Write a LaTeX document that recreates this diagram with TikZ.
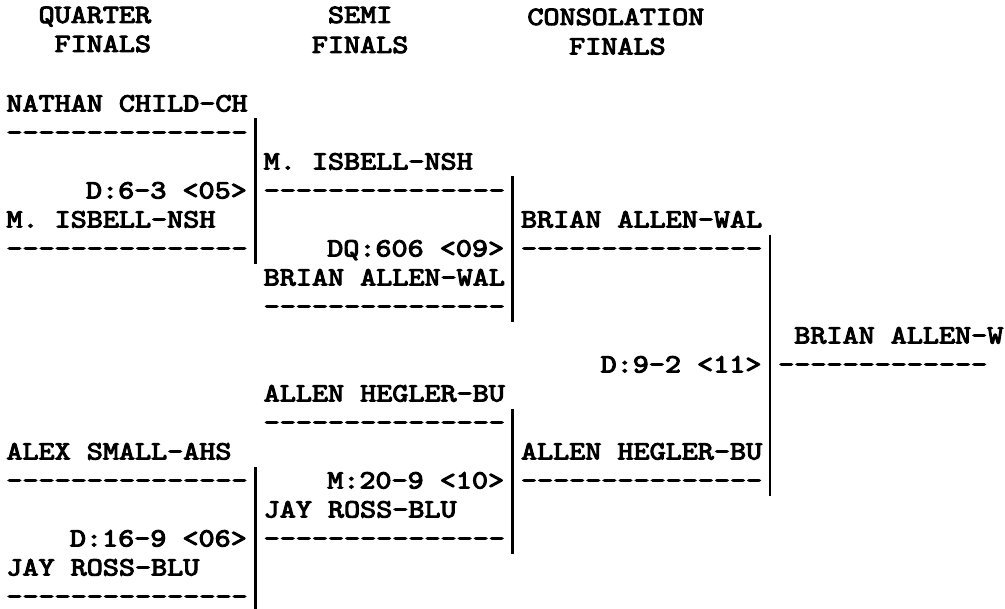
\documentclass[tikz,border=0pt]{standalone}
\usepackage{graphicx}
\usepackage{fontspec}
\newfontfamily\prtfont{lmmono10-regular.otf}[FakeBold=3.5]
\newcommand{\prt}[1]{\scalebox{1.16}[1]{#1}}
\newcommand{\dashes}[1]{\prt{\foreach \k in {1,...,#1}{-\kern0pt}}}

\begin{document}
\begin{tikzpicture}[x=0.5pt, y=-0.5pt,
    entry/.style={anchor=base west, inner sep=0pt, font=\fontsize{13.2}{15}\selectfont\prtfont},
    score/.style={entry, anchor=base east},
    bar/.style={line width=1.3pt}]
    \useasboundingbox (0,0) rectangle (1005,609);

    % Round headings
    \node[entry] (hq1) at (38.2,23) {\prt{QUARTER}};
    \node[entry] (hq2) at (54.2,52) {\prt{FINALS}};
    \node[entry] (hs1) at (327.6,23) {\prt{SEMI}};
    \node[entry] (hs2) at (311.5,53) {\prt{FINALS}};
    \node[entry] (hc1) at (527,25) {\prt{CONSOLATION}};
    \node[entry] (hc2) at (568.8,54.5) {\prt{FINALS}};

    % Quarter finals, top pair
    \node[entry] (qa) at (6,111.5) {\prt{NATHAN CHILD-CH}};
    \node[entry] (qau) at (6,140.5) {\dashes{15}};
    \node[score] (r05) at (247.2,198.5) {\prt{D:6-3 <05>}};
    \node[entry] (qb) at (6,227.5) {\prt{M. ISBELL-NSH}};
    \node[entry] (qbu) at (6,256.5) {\dashes{15}};

    % Quarter finals, bottom pair
    \node[entry] (qc) at (6,459.5) {\prt{ALEX SMALL-AHS}};
    \node[entry] (qcu) at (6,488.5) {\dashes{15}};
    \node[score] (r06) at (247.2,546.5) {\prt{D:16-9 <06>}};
    \node[entry] (qd) at (6,575.5) {\prt{JAY ROSS-BLU}};
    \node[entry] (qdu) at (6,604.5) {\dashes{15}};

    % Semi finals
    \node[entry] (sa) at (263.3,169.5) {\prt{M. ISBELL-NSH}};
    \node[entry] (sau) at (263.3,198.5) {\dashes{15}};
    \node[score] (r09) at (504.5,256.5) {\prt{DQ:606 <09>}};
    \node[entry] (sb) at (263.3,285.5) {\prt{BRIAN ALLEN-WAL}};
    \node[entry] (sbu) at (263.3,314.5) {\dashes{15}};

    \node[entry] (sc) at (263.3,401.5) {\prt{ALLEN HEGLER-BU}};
    \node[entry] (scu) at (263.3,430.5) {\dashes{15}};
    \node[score] (r10) at (504.5,488.5) {\prt{M:20-9 <10>}};
    \node[entry] (sd) at (263.3,517.5) {\prt{JAY ROSS-BLU}};
    \node[entry] (sdu) at (263.3,546.5) {\dashes{15}};

    % Consolation finals
    \node[entry] (ca) at (520.6,227.5) {\prt{BRIAN ALLEN-WAL}};
    \node[entry] (cau) at (520.6,256.5) {\dashes{15}};
    \node[score] (r11) at (761.8,372.5) {\prt{D:9-2 <11>}};
    \node[entry] (cb) at (520.6,459.5) {\prt{ALLEN HEGLER-BU}};
    \node[entry] (cbu) at (520.6,488.5) {\dashes{15}};

    % Winner
    \node[entry] (fa) at (793.9,343.5) {\prt{BRIAN ALLEN-W}};
    \node[entry] (fau) at (777.8,372.5) {\dashes{13}};

    % Bracket bars
    \coordinate (qt1) at (255.2,118.5);
    \coordinate (qt2) at (255.2,263.5);
    \coordinate (qb1) at (255.2,466.5);
    \coordinate (qb2) at (255.2,611.5);
    \coordinate (st1) at (512.5,176.5);
    \coordinate (st2) at (512.5,321.5);
    \coordinate (sb1) at (512.5,408.5);
    \coordinate (sb2) at (512.5,553.5);
    \coordinate (ct1) at (769.8,234.5);
    \coordinate (ct2) at (769.8,495.5);
    \draw[bar] (qt1) -- (qt2);
    \draw[bar] (qb1) -- (qb2);
    \draw[bar] (st1) -- (st2);
    \draw[bar] (sb1) -- (sb2);
    \draw[bar] (ct1) -- (ct2);
\end{tikzpicture}
\end{document}
